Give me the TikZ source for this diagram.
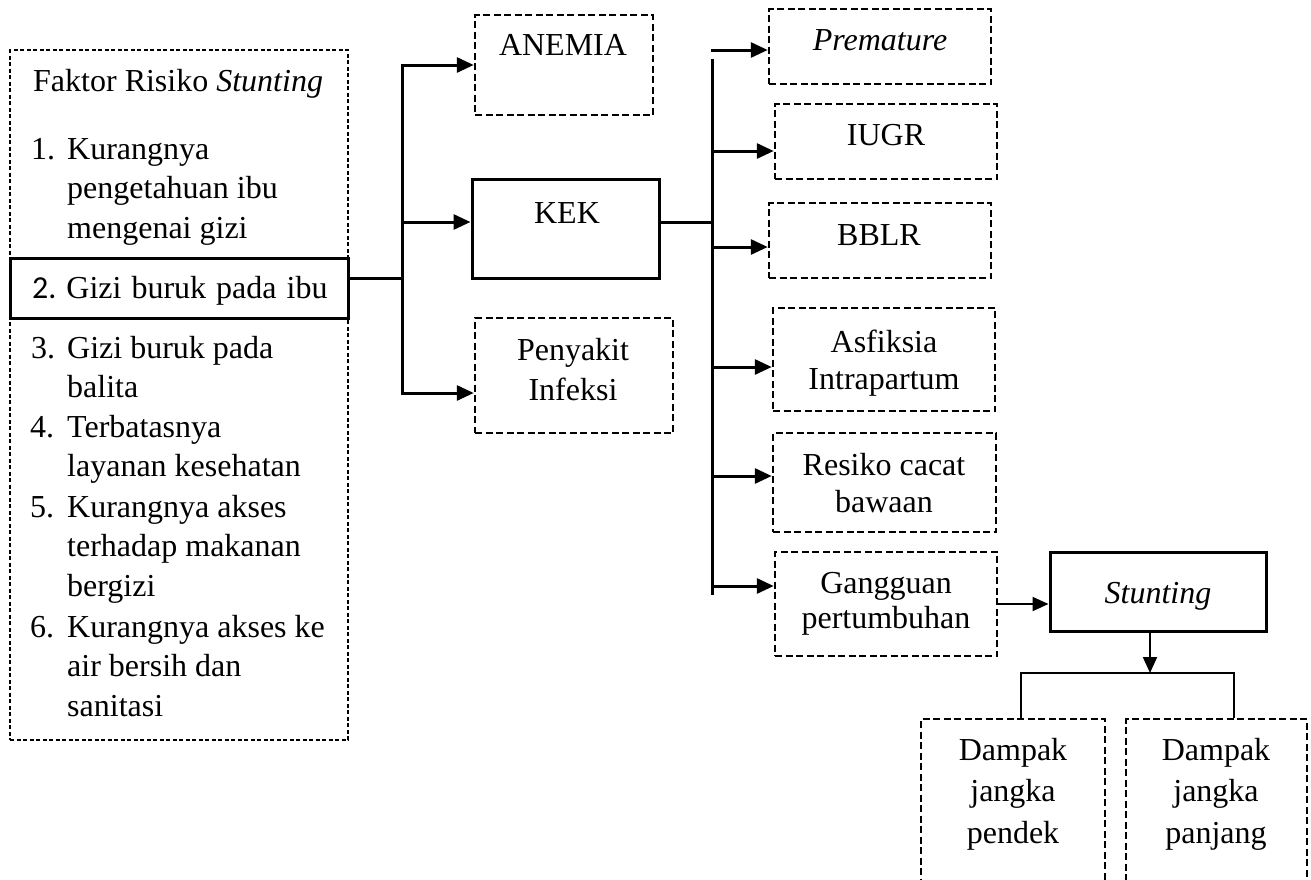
\documentclass[tikz,border=0pt]{standalone}
\usepackage{fontspec}
\setmainfont{Liberation Serif}
\newfontfamily\calfont{Carlito}
\usetikzlibrary{arrows.meta}
\begin{document}
\begin{tikzpicture}[x=1pt,y=-1pt,
  txt/.style={font=\fontsize{32}{39.5}\selectfont, inner sep=0pt, anchor=base, align=center},
  ltxt/.style={font=\fontsize{32}{39.5}\selectfont, inner sep=0pt, anchor=base west, align=left},
  dbox/.style={draw, line width=2.5pt, dash pattern=on 7pt off 3.5pt, inner sep=0pt},
  tbox/.style={draw, line width=1.1pt, dash pattern=on 4pt off 2.5pt, inner sep=0pt},
  sbox/.style={draw, line width=3pt, inner sep=0pt},
  conn/.style={line width=3pt},
  arr/.style={line width=3pt, -{Triangle[length=17pt,width=15pt]}},
  thinarr/.style={line width=2pt, -{Triangle[length=16pt,width=14pt]}},
  thinconn/.style={line width=2pt},
]
\clip (0,0) rectangle (1311,879);
\fill[white] (0,0) rectangle (1311,879);

% left frame
\node[tbox, minimum width=338pt, minimum height=690pt] (frame) at (179,395) {};
\node[sbox, fill=white, minimum width=338pt, minimum height=60pt] (gizi) at (179,288) {};

% multi-line nodes are placed at the baseline of their last line
\node[ltxt] (title) at (33,91) {Faktor Risiko \textit{Stunting}};
\node[ltxt] (n1) at (31,159) {1.};
\node[ltxt] (t1) at (67,238) {Kurangnya\\pengetahuan ibu\\mengenai gizi};
\node[ltxt] (t2) at (32,298) {{\calfont 2.}\hspace{10pt}Gizi\hspace{10pt}buruk\hspace{10pt}pada\hspace{10pt}ibu};
\node[ltxt] (n3) at (31,358) {3.};
\node[ltxt] (t3) at (67,397.5) {Gizi buruk pada\\balita};
\node[ltxt] (n4) at (30,437) {4.};
\node[ltxt] (t4) at (67,476.5) {Terbatasnya\\layanan kesehatan};
\node[ltxt] (n5) at (30,517) {5.};
\node[ltxt] (t5) at (67,596) {Kurangnya akses\\terhadap makanan\\bergizi};
\node[ltxt] (n6) at (30,637) {6.};
\node[ltxt] (t6) at (67,716) {Kurangnya akses ke\\air bersih dan\\sanitasi};

% middle boxes
\node[dbox, minimum width=178pt, minimum height=100pt] (anemia) at (564,65) {};
\node[sbox, minimum width=187pt, minimum height=99pt] (kek) at (565.5,228.5) {};
\node[dbox, minimum width=198pt, minimum height=115pt] (infeksi) at (574,375.5) {};
\node[txt] (anemiaT) at (563,55) {ANEMIA};
\node[txt] (kekT) at (567,223) {KEK};
\node[txt, font=\fontsize{32}{40}\selectfont] (infeksiT) at (573,400) {Penyakit\\Infeksi};

% right column
\node[dbox, minimum width=222pt, minimum height=75pt] (prem) at (880,46.5) {};
\node[dbox, minimum width=222pt, minimum height=75pt] (iugr) at (886,141.5) {};
\node[dbox, minimum width=222pt, minimum height=75pt] (bblr) at (880,240.5) {};
\node[dbox, minimum width=222pt, minimum height=103pt] (asf) at (884,359.5) {};
\node[dbox, minimum width=223pt, minimum height=99pt] (cacat) at (884.5,482.5) {};
\node[dbox, minimum width=222pt, minimum height=104pt] (gang) at (886,604) {};
\node[txt] (premT) at (880,50) {\textit{Premature}};
\node[txt] (iugrT) at (886,145) {IUGR};
\node[txt] (bblrT) at (879,245) {BBLR};
\node[txt, font=\fontsize{32}{37}\selectfont] (asfT) at (884,389) {Asfiksia\\Intrapartum};
\node[txt, font=\fontsize{32}{37}\selectfont] (cacatT) at (884,512) {Resiko cacat\\bawaan};
\node[txt, font=\fontsize{32}{35}\selectfont] (gangT) at (886,628) {Gangguan\\pertumbuhan};

% stunting and impacts
\node[sbox, minimum width=216pt, minimum height=79pt] (stunt) at (1158,591.5) {};
\node[txt] (stuntT) at (1158,603) {\textit{Stunting}};
\node[dbox, minimum width=184pt, minimum height=176pt] (pendek) at (1013,807) {};
\node[dbox, minimum width=181pt, minimum height=176pt] (panjang) at (1216.5,807) {};
\node[txt, font=\fontsize{32}{41.5}\selectfont] (pendekT) at (1013,843) {Dampak\\jangka\\pendek};
\node[txt, font=\fontsize{32}{41.5}\selectfont] (panjangT) at (1216,843) {Dampak\\jangka\\panjang};

% connectors: left
\coordinate (j1) at (402,278);
\coordinate (bt) at (402,65);
\coordinate (bb) at (402,393);
\coordinate (bk) at (402,222);
\draw[conn] (gizi.east |- j1) -- (j1);
\draw[line width=3pt, {Triangle[length=17pt,width=15pt]}-{Triangle[length=17pt,width=15pt]}]
  (anemia.west |- bt) -- (bt) -- (bb) -- (infeksi.west |- bb);
\draw[arr] (bk) -- (kek.west |- bk);

% connectors: right
\coordinate (kr) at (712,222);
\draw[conn] (kr -| kek.east) -- (kr);
\coordinate (rt) at (712,59);
\coordinate (rb) at (712,595);
\draw[conn] (rt) -- (rb);
\coordinate (a1) at (711,50);
\coordinate (a2) at (712,151);
\coordinate (a3) at (712,247);
\coordinate (a4) at (712,367);
\coordinate (a5) at (712,476);
\coordinate (a6) at (712,586);
\draw[arr] (a1) -- (prem.west |- a1);
\draw[arr] (a2) -- (iugr.west |- a2);
\draw[arr] (a3) -- (bblr.west |- a3);
\draw[arr] (a4) -- (asf.west |- a4);
\draw[arr] (a5) -- (cacat.west |- a5);
\draw[arr] (a6) -- (gang.west |- a6);

% gangguan -> stunting -> impacts
\draw[thinarr] (gang.east) -- (stunt.west |- gang.east);
\coordinate (sd) at (1150,673);
\coordinate (tl) at (1021,673);
\coordinate (tr) at (1234,673);
\draw[thinarr] (sd |- stunt.south) -- (sd);
\draw[thinconn] (tl |- pendek.north) -- (tl) -- (tr) -- (tr |- panjang.north);
\end{tikzpicture}
\end{document}
